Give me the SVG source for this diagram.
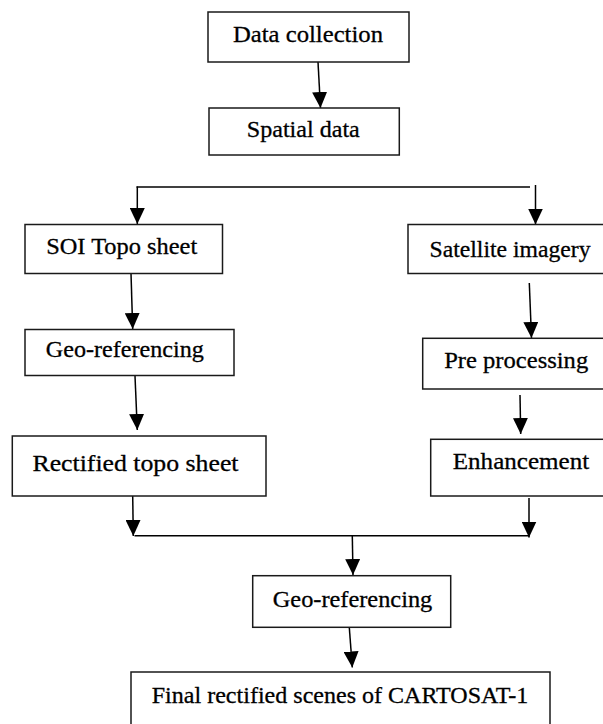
<svg xmlns="http://www.w3.org/2000/svg" width="603" height="724" viewBox="0 0 603 724">
  <style>
    .box { fill: #ffffff; stroke: #1a1a1a; stroke-width: 1.5; }
    .lbl { font-family: "Liberation Serif", "DejaVu Serif", serif; font-size: 24px; fill: #000000; stroke: #000000; stroke-width: 0.3; text-anchor: middle; }
    .wire { fill: none; stroke: #000000; stroke-width: 1.5; }
    .arrow { fill: none; stroke: #000000; stroke-width: 1.5; marker-end: url(#head); }
  </style>
  <defs>
    <marker id="head" markerUnits="userSpaceOnUse" markerWidth="16" markerHeight="15" refX="16" refY="7.5" orient="auto">
      <path d="M0,0 L16,7.5 L0,15 Z" fill="#000000"/>
    </marker>
  </defs>
  <rect width="603" height="724" fill="#ffffff"/>

  <g id="connectors">
    <line class="arrow" x1="318" y1="62" x2="320.5" y2="108"/>
    <line class="wire" x1="136.5" y1="187" x2="530" y2="187"/>
    <line class="arrow" x1="137.3" y1="186.5" x2="137.3" y2="224"/>
    <line class="arrow" x1="535.5" y1="185" x2="535.5" y2="224.5"/>
    <line class="arrow" x1="131" y1="273.5" x2="132.7" y2="329"/>
    <line class="arrow" x1="529.3" y1="283" x2="531.5" y2="338"/>
    <line class="arrow" x1="135" y1="376" x2="137.3" y2="430"/>
    <line class="arrow" x1="520" y1="395" x2="520.7" y2="434"/>
    <line class="arrow" x1="132.7" y1="496" x2="133.3" y2="536"/>
    <line class="arrow" x1="529" y1="498" x2="529" y2="537.5"/>
    <line class="wire" x1="134.5" y1="535.7" x2="529" y2="535.7"/>
    <line class="arrow" x1="352.3" y1="535.7" x2="353" y2="575"/>
    <line class="arrow" x1="349.3" y1="627.5" x2="352.3" y2="667.5"/>
  </g>

  <g id="data-collection">
    <rect class="box" x="208" y="12" width="201" height="50"/>
    <text class="lbl" x="308" y="41.7" textLength="150" lengthAdjust="spacingAndGlyphs">Data collection</text>
  </g>
  <g id="spatial-data">
    <rect class="box" x="209" y="108" width="190.3" height="47"/>
    <text class="lbl" x="303.3" y="137" textLength="113" lengthAdjust="spacingAndGlyphs">Spatial data</text>
  </g>
  <g id="soi-topo-sheet">
    <rect class="box" x="25" y="224.5" width="197.5" height="49"/>
    <text class="lbl" x="121.7" y="254" textLength="151" lengthAdjust="spacingAndGlyphs">SOI Topo sheet</text>
  </g>
  <g id="satellite-imagery">
    <rect class="box" x="408" y="224.5" width="205" height="49"/>
    <text class="lbl" x="510" y="256.7" textLength="161" lengthAdjust="spacingAndGlyphs">Satellite imagery</text>
  </g>
  <g id="geo-referencing-topo">
    <rect class="box" x="25" y="329.5" width="209" height="46"/>
    <text class="lbl" x="124.8" y="356.7" textLength="158" lengthAdjust="spacingAndGlyphs">Geo-referencing</text>
  </g>
  <g id="pre-processing">
    <rect class="box" x="422.7" y="338.3" width="190" height="50.7"/>
    <text class="lbl" x="516.2" y="368.3" textLength="144" lengthAdjust="spacingAndGlyphs">Pre processing</text>
  </g>
  <g id="rectified-topo-sheet">
    <rect class="box" x="12.3" y="436" width="253.7" height="60"/>
    <text class="lbl" x="135.5" y="470.7" textLength="206" lengthAdjust="spacingAndGlyphs">Rectified topo sheet</text>
  </g>
  <g id="enhancement">
    <rect class="box" x="430.7" y="439.3" width="190" height="56.7"/>
    <text class="lbl" x="521" y="469" textLength="136.5" lengthAdjust="spacingAndGlyphs">Enhancement</text>
  </g>
  <g id="geo-referencing">
    <rect class="box" x="252.7" y="575.7" width="198" height="51.6"/>
    <text class="lbl" x="352.5" y="606.7" textLength="159.5" lengthAdjust="spacingAndGlyphs">Geo-referencing</text>
  </g>
  <g id="final-scenes">
    <rect class="box" x="131" y="672" width="419" height="80"/>
    <text class="lbl" x="340" y="703.3" textLength="376.5" lengthAdjust="spacingAndGlyphs">Final rectified scenes of CARTOSAT-1</text>
  </g>
</svg>
